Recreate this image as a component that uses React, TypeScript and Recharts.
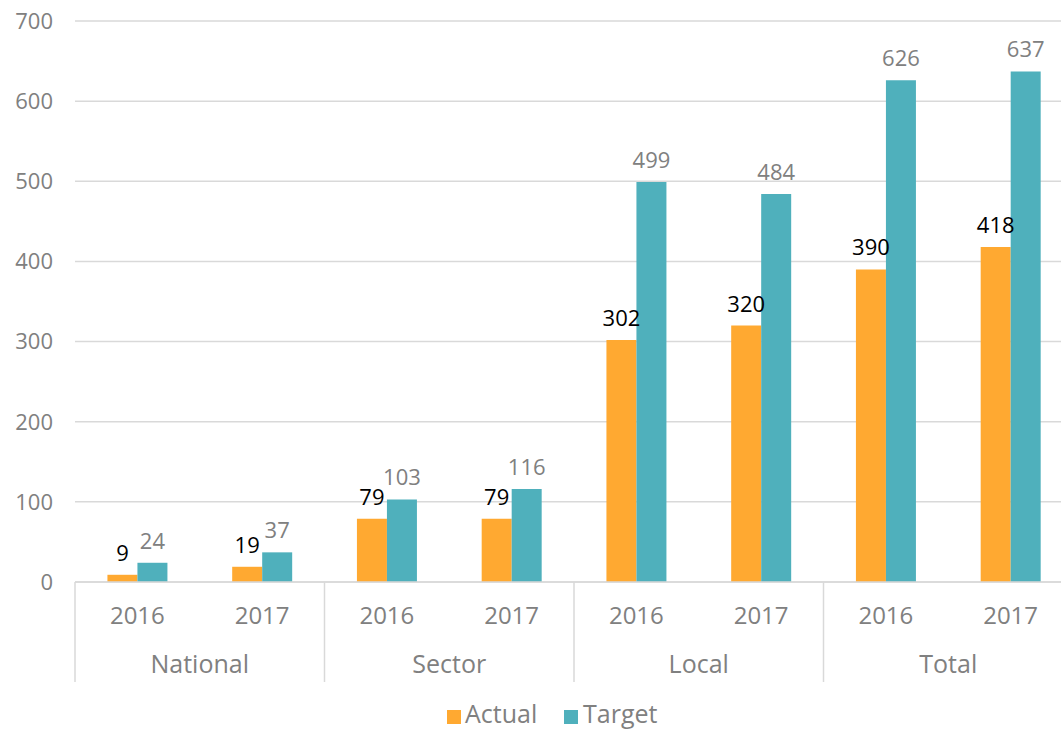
import React from 'react';
import { BarChart, Bar, XAxis, YAxis, CartesianGrid, Legend, LabelList } from 'recharts';

const years = ['2016', '2017', '2016', '2017', '2016', '2017', '2016', '2017'];
const groups = ['National', 'National', 'Sector', 'Sector', 'Local', 'Local', 'Total', 'Total'];
const actual = [9, 19, 79, 79, 302, 320, 390, 418];
const target = [24, 37, 103, 116, 499, 484, 626, 637];
const yTicks = [0, 100, 200, 300, 400, 500, 600, 700];

const data = years.map((y, i) => ({ key: `${groups[i]}-${y}`, year: y, group: groups[i], actual: actual[i], target: target[i] }));

const FONT = '"Open Sans", sans-serif';
const ORANGE = '#FFA931';
const TEAL = '#4FB0BC';
const GREY = '#808080';
const LINE = '#d9d9d9';

const CHART_W = 1074;
const CHART_H = 731;
const Y_W = 75;
const BAND = (CHART_W - Y_W - 1) / years.length;

const YearTick = (props: any) => {
  const { x, y, index } = props;
  const isFirst = index % 2 === 0;
  const isLast = index === years.length - 1;
  return (
    <g>
      <text x={x} y={y} dy={42} textAnchor="middle" fill={GREY} fontSize={24} fontFamily={FONT}>{years[index]}</text>
      {isFirst && (
        <text x={x + BAND / 2} y={y} dy={91} textAnchor="middle" fill={GREY} fontSize={25} fontFamily={FONT}>{groups[index]}</text>
      )}
      {isFirst && <line x1={x - BAND / 2} x2={x - BAND / 2} y1={y} y2={y + 100} stroke={LINE} strokeWidth={1.5} />}
      {isLast && <line x1={x + BAND / 2} x2={x + BAND / 2} y1={y} y2={y + 100} stroke={LINE} strokeWidth={1.5} />}
    </g>
  );
};

const LegendContent = () => (
  <div style={{ position: 'relative', height: 49, fontFamily: FONT, fontSize: 25, color: GREY }}>
    <span style={{ position: 'absolute', left: 447, top: 28, width: 14, height: 14, background: ORANGE }} />
    <span style={{ position: 'absolute', left: 465, top: 18, lineHeight: '26px' }}>Actual</span>
    <span style={{ position: 'absolute', left: 564, top: 28, width: 14, height: 14, background: TEAL }} />
    <span style={{ position: 'absolute', left: 583, top: 18, lineHeight: '26px' }}>Target</span>
  </div>
);

export default function App() {
  return (
    <div style={{ position: 'absolute', left: 0, top: 0, width: 1061, height: 731, overflow: 'hidden', background: '#fff' }}>
      <BarChart
        width={CHART_W}
        height={CHART_H}
        data={data}
        margin={{ top: 21, right: 1, bottom: 0, left: 0 }}
        barCategoryGap="26%"
        barGap={0}
      >
        <CartesianGrid vertical={false} stroke={LINE} strokeWidth={1.5} />
        <XAxis
          dataKey="key"
          height={100}
          tick={<YearTick />}
          tickLine={false}
          tickSize={0}
          tickMargin={0}
          interval={0}
          axisLine={{ stroke: LINE, strokeWidth: 1.5 }}
        />
        <YAxis
          width={Y_W}
          domain={[0, 700]}
          ticks={yTicks}
          axisLine={false}
          tickLine={false}
          tickSize={0}
          tickMargin={22}
          tick={{ fill: GREY, fontSize: 22, fontFamily: FONT }}
        />
        <Legend verticalAlign="bottom" content={<LegendContent />} wrapperStyle={{ left: 0, width: 1061 }} />
        <Bar dataKey="actual" name="Actual" fill={ORANGE} isAnimationActive={false}>
          <LabelList dataKey="actual" position="top" offset={14} fill="#000" fontSize={22} fontFamily={FONT} />
        </Bar>
        <Bar dataKey="target" name="Target" fill={TEAL} isAnimationActive={false}>
          <LabelList dataKey="target" position="top" offset={14} fill={GREY} fontSize={22} fontFamily={FONT} />
        </Bar>
      </BarChart>
    </div>
  );
}
